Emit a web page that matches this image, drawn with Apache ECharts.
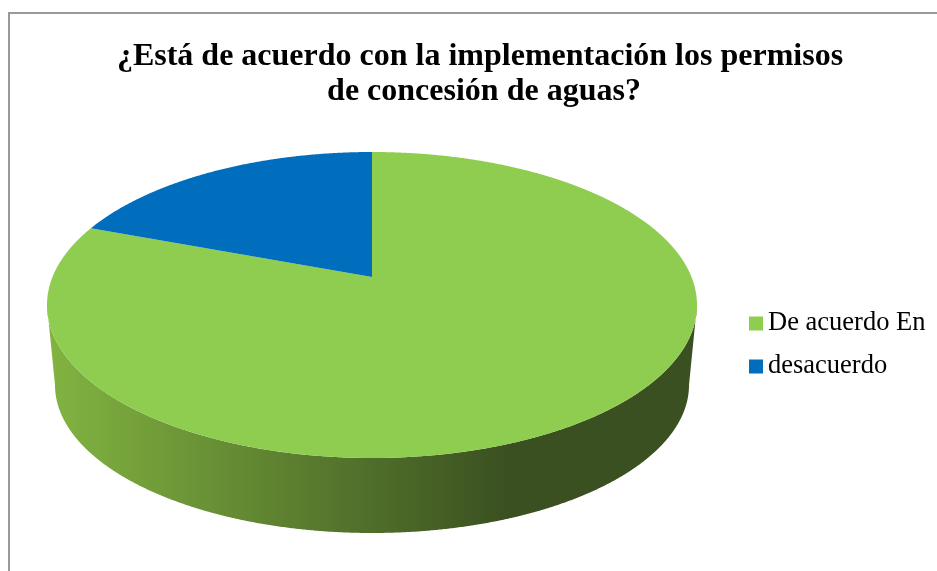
<!DOCTYPE html>
<html>
<head>
<meta charset="utf-8">
<style>html,body{margin:0;padding:0;background:#fff;overflow:hidden}#c{width:937px;height:571px}</style>
<script src="https://cdn.jsdelivr.net/npm/echarts@6/dist/echarts.min.js"></script>
</head>
<body>
<div id="c"></div>
<script>
const titleText = '¿Está de acuerdo con la implementación los permisos \nde concesión de aguas?';
const categories = ['De acuerdo En', 'desacuerdo'];
const values = [80.7, 19.3];
const colors = ['#8ecd4f', '#006ebd'];

// 3D pie geometry (perspective ellipse of the top rim and of the bottom rim)
const topRim = { cx: 372, cy: 305, rx: 325, ry: 153 };
const bottomRim = { cx: 372, cy: 385, rx: 317, ry: 148 };
const persp = -0.183;

function project(theta, rim) {
  const X = Math.sin(theta), Y = -Math.cos(theta);
  const d = 1 + persp * Y;
  return [
    rim.cx + rim.rx * X * Math.sqrt(1 - persp * persp) / d,
    rim.cy + rim.ry * (Y + persp) / d
  ];
}
function rimPoints(a0, a1, rim) {
  const pts = [];
  const n = Math.max(2, Math.ceil((a1 - a0) / (Math.PI / 720)));
  for (let i = 0; i <= n; i++) pts.push(project(a0 + (a1 - a0) * i / n, rim));
  return pts;
}
const total = values.reduce((a, b) => a + b, 0);
function renderSlice(seriesIndex) {
  return function (params, api) {
    const before = values.slice(0, seriesIndex).reduce((a, b) => a + b, 0);
    const a0 = before / total * 2 * Math.PI;
    const a1 = a0 + api.value(0) / total * 2 * Math.PI;
    const children = [];
    // visible outer wall: the part of this slice's rim in the front half
    const frontLimit = Math.acos(persp);
    const w0 = Math.max(a0, frontLimit);
    const w1 = Math.min(a1, Math.PI * 2 - frontLimit);
    if (w1 > w0) {
      const upper = rimPoints(w0, w1, topRim);
      const lower = rimPoints(w0, w1, bottomRim).reverse();
      children.push({
        type: 'polygon',
        shape: { points: upper.concat(lower) },
        style: {
          fill: {
            type: 'linear', x: 0, y: 0, x2: 1, y2: 0,
            colorStops: [
              { offset: 0, color: '#82b441' },
              { offset: 0.71, color: '#3a5020' },
              { offset: 1, color: '#3a5020' }
            ]
          }
        }
      });
    }
    const apex = [topRim.cx, topRim.cy + topRim.ry * persp];
    children.push({
      type: 'polygon',
      shape: { points: [apex].concat(rimPoints(a0, a1, topRim)) },
      style: { fill: colors[seriesIndex] }
    });
    return { type: 'group', children };
  };
}

const chart = echarts.init(document.getElementById('c'));
chart.setOption({
  animation: false,
  backgroundColor: '#fff',
  title: {
    text: titleText,
    left: 479,
    top: 34,
    textAlign: 'center',
    textStyle: { fontFamily: 'Liberation Serif', fontWeight: 'bold', fontSize: 32, lineHeight: 35, color: '#000' }
  },
  legend: {
    orient: 'vertical',
    left: 744,
    top: 305,
    icon: 'rect',
    itemWidth: 14,
    itemHeight: 14,
    itemGap: 16,
    selectedMode: false,
    data: categories,
    textStyle: { fontFamily: 'Liberation Serif', fontSize: 26.5, color: '#000', lineHeight: 26 }
  },
  graphic: [
    { type: 'polyline', silent: true, shape: { points: [[9, 571], [9, 13], [937, 13]] }, style: { stroke: '#999', lineWidth: 2, fill: null } }
  ],
  series: categories.map((name, i) => ({
    type: 'custom',
    name,
    coordinateSystem: 'none',
    silent: true,
    itemStyle: { color: colors[i] },
    data: [values[i]],
    renderItem: renderSlice(i)
  }))
});
</script>
</body>
</html>
